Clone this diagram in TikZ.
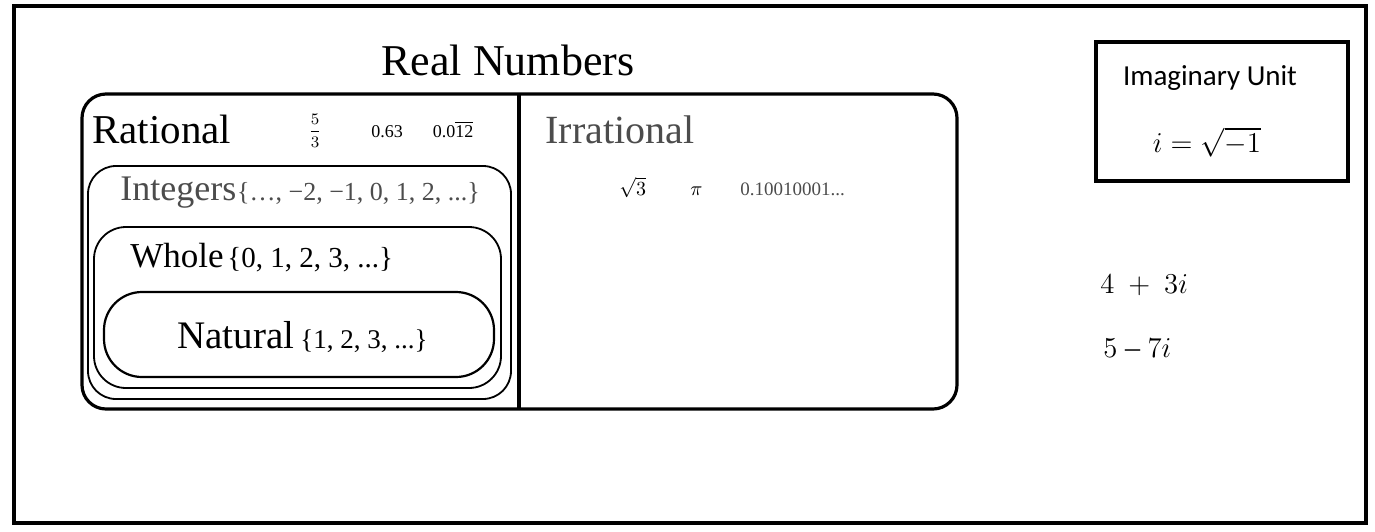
\documentclass[tikz,border=0pt]{standalone}
\usepackage{fontspec}
\setmainfont{Liberation Serif}
\newfontfamily\unitfont{Carlito}
\newcommand{\fsz}[1]{\fontsize{#1}{#1}\selectfont}
\definecolor{softink}{gray}{0.3}
\tikzset{
  label text/.style={inner sep=0pt, anchor=base west},
  set box/.style={line width=0.9pt},
}
\begin{document}
\begin{tikzpicture}[x=0.5pt,y=-0.5pt]
\useasboundingbox (0,0) rectangle (1375,531);
\draw[line width=2pt] (14,6) -- (1366,6) -- (1366,523) -- (14,523) -- cycle;

\draw (508,75) node[inner sep=0pt, anchor=base, font=\fsz{22}] (real) {Real Numbers};

\draw[line width=1.6pt, rounded corners=12pt] (82,94) rectangle (957,409);
\draw[line width=1.6pt] (519,94) -- (519,409);

% rational side
\draw (92,143) node[label text, font=\fsz{20.5}] (rational) {Rational};
\draw (315,131) node[inner sep=0pt, font=\fsz{8.5}] (fivethirds) {$\displaystyle\frac{5}{3}$};
\draw (387,137) node[inner sep=0pt, anchor=base, font=\fsz{9}] (finite) {0.63};
\draw (453,137) node[inner sep=0pt, anchor=base, font=\fsz{9}] (repeat) {0.0$\overline{\hbox{12}}$};

\draw[set box, rounded corners=14pt] (88,166) rectangle (511,399);
\draw (120,200) node[label text, font=\fsz{18}, text=softink] (integers) {Integers};
\draw (integers.base east) node[label text, font=\fsz{13}, text=softink] (intset) {\{…, −2, −1, 0, 1, 2, ...\}};

\draw[set box, rounded corners=16pt] (94,227) rectangle (501,388);
\draw (130,267) node[label text, font=\fsz{17.5}] (whole) {Whole};
\draw (227,267) node[label text, font=\fsz{14.5}] (wholeset) {\{0, 1, 2, 3, ...\}};

\draw[line width=1.1pt, rounded corners=19pt] (104,292) rectangle (494,377);
\draw (177,348) node[label text, font=\fsz{19.5}] (natural) {Natural};
\draw (300,348) node[label text, font=\fsz{13.5}] (natset) {\{1, 2, 3, ...\}};

% irrational side
\draw (545,143) node[label text, font=\fsz{20}, text=softink] (irrational) {Irrational};
\draw (619,195) node[label text, font=\fsz{10}] (rootthree) {$\sqrt{3}$};
\draw (690,195) node[label text, font=\fsz{10}] (piconst) {$\pi$};
\draw (740,195) node[label text, font=\fsz{9.5}, text=softink] (nonrepeat) {0.10010001...};

% imaginary unit
\draw[line width=1.6pt] (1096,42) rectangle (1348,181);
\draw (1210,85) node[inner sep=0pt, anchor=base, font=\unitfont\fsz{14.5}] (unit) {Imaginary Unit};
\draw (1207,152) node[inner sep=0pt, anchor=base, font=\fsz{15}] (unitdef) {$i = \sqrt{-1}$};

\draw (1100,293) node[label text, font=\fsz{15}] (sumex) {$4\ +\ 3i$};
\draw (1103,357) node[label text, font=\fsz{15}] (diffex) {$5$\ –\ $7i$};
\end{tikzpicture}
\end{document}
